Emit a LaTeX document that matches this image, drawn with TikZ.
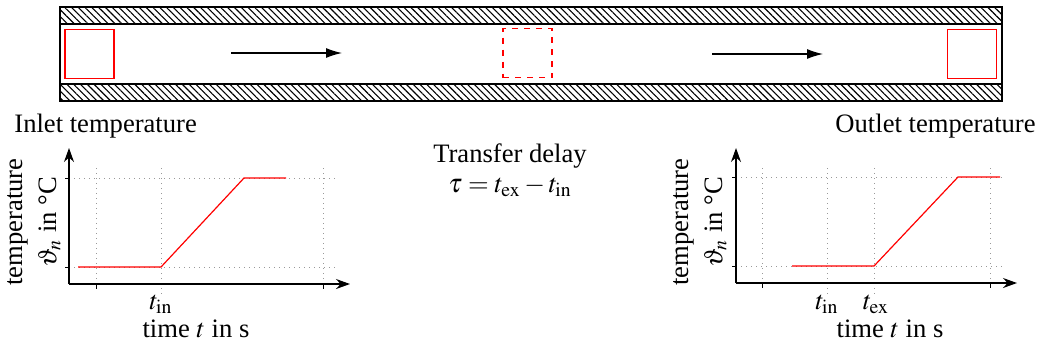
\documentclass[tikz,border=0pt]{standalone}
\usepackage{mathptmx}
\usepackage{fontspec}
\setmainfont{Liberation Serif}
\usepackage{tikz}
\usetikzlibrary{calc,arrows.meta,patterns.meta}

\tikzset{
  lbl/.style={font=\fontsize{13.3}{15}\selectfont, inner sep=0pt},
  probe/.style={draw=red, line width=0.6pt, minimum size=24.5pt, inner sep=0pt},
  wall/.style={draw=black, line width=0.8pt, pattern={Lines[angle=-45,distance=2.4pt,line width=0.55pt]}},
  grid/.style={gray!80, dotted, line width=0.5pt},
  axis/.style={line width=0.6pt, -{Stealth[length=7pt,width=5pt]}},
  curve/.style={red, line width=0.6pt}
}

\begin{document}
\begin{tikzpicture}[x=0.5pt, y=-0.5pt]
    \useasboundingbox (0,0) rectangle (1042,350);

    % pipe
    \draw[wall] (60,7) rectangle (1002,24);
    \draw[wall] (60,84) rectangle (1002,101);
    \draw[line width=0.8pt] (60,24) -- (60,84);
    \draw[line width=0.8pt] (1002,24) -- (1002,84);

    \node[probe] (pin) at (89.5,54) {};
    \node[probe, dashed] (pmid) at (527.5,53) {};
    \node[probe] (pout) at (972,54) {};

    \coordinate (f1a) at (231,53);
    \coordinate (f1b) at (342,53);
    \coordinate (f2a) at (712,54);
    \coordinate (f2b) at (823,54);
    \draw[line width=0.6pt, -{Latex[length=8pt,width=5pt]}] (f1a) -- (f1b);
    \draw[line width=0.6pt, -{Latex[length=8pt,width=5pt]}] (f2a) -- (f2b);

    % texts
    \node[lbl, anchor=west] (tin) at (14,126) {Inlet temperature};
    \node[lbl, anchor=east] (tout) at (1036,126) {Outlet temperature};
    \node[lbl] (delay) at (510,156) {Transfer delay};
    \node[lbl] (tau) at (510,187) {$\tau = t_{\mathrm{ex}} - t_{\mathrm{in}}$};

    % inlet plot
    \coordinate (o1) at (69,284);
    \draw[grid] (96,168) -- (96,284);
    \draw[grid] (161,168) -- (161,295);
    \draw[grid] (323,168) -- (323,284);
    \draw[grid] (o1 |- 0,178) -- (338,178);
    \draw[grid] (o1 |- 0,267) -- (338,267);
    \draw[axis] (o1) -- (69,148);
    \draw[axis] (o1) -- (350,284);
    \draw[line width=0.5pt] (96,284) -- (96,289);
    \draw[line width=0.5pt] (323,284) -- (323,289);
    \draw[line width=0.5pt] (65,178) -- (69,178);
    \draw[line width=0.5pt] (65,267) -- (69,267);
    \draw[curve] (78,267) -- (161,267) -- (244,178) -- (286,178);
    \node[lbl] (lt1) at (161,304) {$t_{\mathrm{in}}$};
    \node[lbl] (lx1) at (196,329) {time $t$ in s};
    \node[lbl, rotate=90, align=center] (ly1) at (34,222) {temperature\\[2pt]$\vartheta_n$ in °C};

    % outlet plot
    \coordinate (o2) at (736,283);
    \draw[grid] (762,168) -- (762,283);
    \draw[grid] (827,168) -- (827,295);
    \draw[grid] (874,168) -- (874,295);
    \draw[grid] (990,168) -- (990,283);
    \draw[grid] (o2 |- 0,177) -- (1003,177);
    \draw[grid] (o2 |- 0,266) -- (1003,266);
    \draw[axis] (o2) -- (736,148);
    \draw[axis] (o2) -- (1017,283);
    \draw[line width=0.5pt] (762,283) -- (762,288);
    \draw[line width=0.5pt] (990,283) -- (990,288);
    \draw[line width=0.5pt] (732,177) -- (736,177);
    \draw[line width=0.5pt] (732,266) -- (736,266);
    \draw[curve] (792,266) -- (874,266) -- (958,177) -- (1000,177);
    \node[lbl] (lt2) at (827,304) {$t_{\mathrm{in}}$};
    \node[lbl] (lt3) at (876,304) {$t_{\mathrm{ex}}$};
    \node[lbl] (lx2) at (890,329) {time $t$ in s};
    \node[lbl, rotate=90, align=center] (ly2) at (700,222) {temperature\\[2pt]$\vartheta_n$ in °C};
\end{tikzpicture}
\end{document}
